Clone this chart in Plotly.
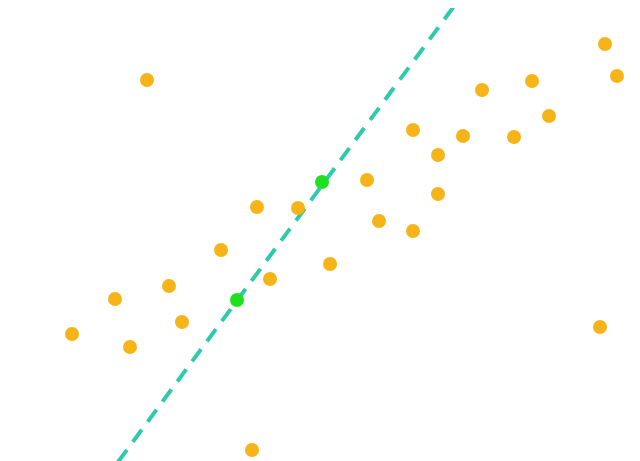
import plotly.graph_objects as go

# orange points (x, y)
orange_x = [146, 604, 616, 481, 531, 548, 412, 462, 513, 437, 366, 256, 297,
            437, 378, 412, 220, 329, 269, 114, 168, 181, 71, 129, 599, 251]
orange_y = [382, 418, 386, 372, 381, 346, 332, 326, 325, 307, 282, 255, 254,
            268, 241, 231, 212, 198, 183, 163, 176, 140, 128, 115, 135, 12]

# the two green points the line goes through
green_x = [321, 236]
green_y = [280, 162]

# fitted line end points
line_x = [117, 462]
line_y = [0, 468]

fig = go.Figure()
fig.add_trace(go.Scatter(
    x=line_x, y=line_y, mode='lines',
    line=dict(color='#2ECBAA', width=4, dash='15px,10px'),
    hoverinfo='skip'
))
fig.add_trace(go.Scatter(
    x=orange_x, y=orange_y, mode='markers',
    marker=dict(color='#F6B418', size=14)
))
fig.add_trace(go.Scatter(
    x=green_x, y=green_y, mode='markers',
    marker=dict(color='#1EE01E', size=14)
))

# page body has an 8px margin, so the ranges are nudged to line up
fig.update_layout(
    width=640, height=461,
    margin=dict(l=0, r=0, t=0, b=0),
    paper_bgcolor='white', plot_bgcolor='white',
    showlegend=False,
    xaxis=dict(range=[7, 647], visible=False),
    yaxis=dict(range=[-7, 454], visible=False),
)

fig.write_html("out.html")
